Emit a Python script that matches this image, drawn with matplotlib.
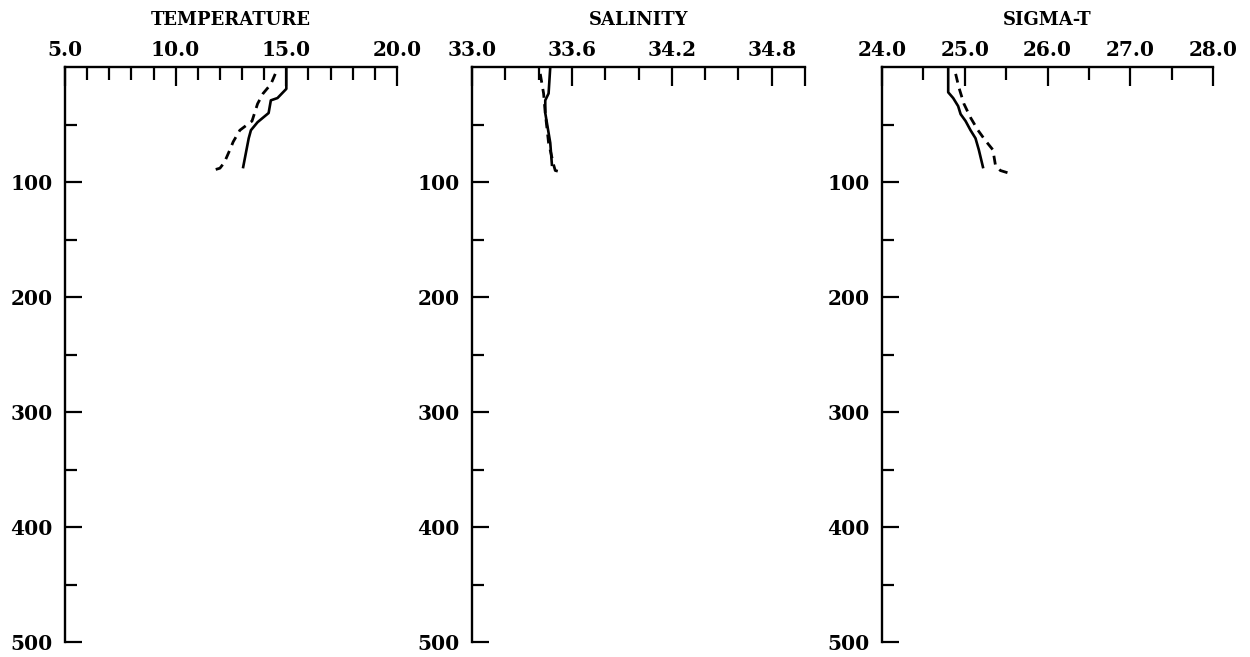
import numpy as np
import matplotlib
matplotlib.use('Agg')
import matplotlib.pyplot as plt
from matplotlib.ticker import FixedLocator, MultipleLocator

plt.rcParams['font.family'] = ['DejaVu Serif']
plt.rcParams['font.weight'] = 'bold'

# profile depths (m) and values, two casts each (solid / dashed)
temp_depth_a = [0, 19, 27, 29, 40, 48, 55, 62, 72, 87]
temp_a = [15.0, 15.0, 14.6, 14.3, 14.2, 13.7, 13.4, 13.3, 13.2, 13.05]
temp_depth_b = [6, 15, 23, 32, 47, 55, 65, 72, 83, 88, 90]
temp_b = [14.5, 14.3, 13.95, 13.7, 13.45, 12.9, 12.6, 12.45, 12.2, 12.0, 11.65]

sal_depth_a = [0, 23, 29, 40, 66, 85]
sal_a = [33.47, 33.46, 33.44, 33.44, 33.47, 33.48]
sal_depth_b = [6, 23, 40, 66, 85, 90, 92]
sal_b = [33.41, 33.43, 33.44, 33.46, 33.49, 33.50, 33.55]

sig_depth_a = [0, 22, 27, 34, 41, 47, 55, 62, 72, 87]
sig_a = [24.8, 24.8, 24.86, 24.92, 24.95, 25.01, 25.07, 25.13, 25.17, 25.22]
sig_depth_b = [6, 18, 32, 44, 55, 64, 72, 85, 90, 92]
sig_b = [24.89, 24.93, 24.99, 25.07, 25.16, 25.25, 25.34, 25.37, 25.43, 25.52]

titles = ['TEMPERATURE', 'SALINITY', 'SIGMA-T']
xlims = [(5.0, 20.0), (33.0, 35.0), (24.0, 28.0)]
major_ticks = [[5, 10, 15, 20], [33.0, 33.6, 34.2, 34.8, 35.0], [24, 25, 26, 27, 28]]
major_labels = [['5.0', '10.0', '15.0', '20.0'],
                ['33.0', '33.6', '34.2', '34.8', ''],
                ['24.0', '25.0', '26.0', '27.0', '28.0']]
minor_step = [1.0, 0.2, 0.5]
depth_ticks = [100, 200, 300, 400, 500]

profiles = [(temp_depth_a, temp_a, temp_depth_b, temp_b),
            (sal_depth_a, sal_a, sal_depth_b, sal_b),
            (sig_depth_a, sig_a, sig_depth_b, sig_b)]

fig = plt.figure(figsize=(12.5, 6.57), dpi=100)
lefts = [65, 472, 882]
rights = [397, 805, 1213]
top, bottom = 1 - 67 / 657, 1 - 642 / 657

for i in range(3):
    ax = fig.add_axes([lefts[i] / 1250, bottom, (rights[i] - lefts[i]) / 1250, top - bottom])
    da, va, db, vb = profiles[i]
    ax.plot(va, da, color='black', lw=1.9)
    ax.plot(vb, db, color='black', lw=2.0, linestyle=(0, (3.2, 2.3)))

    ax.set_xlim(*xlims[i])
    ax.set_ylim(500, 0)

    for s in ['right', 'bottom']:
        ax.spines[s].set_visible(False)
    for s in ['left', 'top']:
        ax.spines[s].set_linewidth(1.7)

    ax.xaxis.tick_top()
    ax.xaxis.set_major_locator(FixedLocator(major_ticks[i]))
    ax.set_xticklabels(major_labels[i])
    ax.xaxis.set_minor_locator(MultipleLocator(minor_step[i]))
    ax.tick_params(axis='x', which='major', direction='in', length=14, width=1.6,
                   labelsize=14.5, pad=5)
    ax.tick_params(axis='x', which='minor', direction='in', length=9.5, width=1.6)

    ax.yaxis.set_major_locator(FixedLocator(depth_ticks))
    ax.yaxis.set_minor_locator(FixedLocator([50, 150, 250, 350, 450]))
    ax.tick_params(axis='y', which='major', direction='in', length=12.5, width=1.6,
                   labelsize=14.5, pad=9)
    ax.tick_params(axis='y', which='minor', direction='in', length=8.5, width=1.6)

    ax.annotate(titles[i], xy=(0.5, 1), xycoords='axes fraction', xytext=(0, 30),
                textcoords='offset points', ha='center', va='baseline',
                fontsize=13, fontweight='bold')

fig.savefig('out.png', dpi=100)
